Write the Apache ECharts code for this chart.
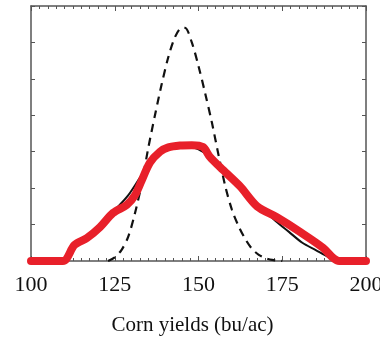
<!DOCTYPE html>
<html><head><meta charset="utf-8">
<script src="https://cdn.jsdelivr.net/npm/echarts@6/dist/echarts.min.js"></script>
<style>html,body{margin:0;padding:0;background:#fff}#c{width:380px;height:338px}</style>
</head><body><div id="c"></div>
<script>
const xTicks = [100, 125, 150, 175, 200];
const axisTitle = 'Corn yields (bu/ac)';
// dashed curve (x, y)
const dashedX = [123, 125, 127, 129, 131, 133, 135, 137, 139, 141, 143, 145, 146, 148, 150, 152, 154, 156, 158, 160, 162, 164, 166, 168, 170, 172, 175];
const dashedY = [0, 0.1, 0.3, 0.66, 1.3, 2.1, 3.1, 4.0, 4.85, 5.6, 6.15, 6.4, 6.4, 6.0, 5.35, 4.6, 3.8, 2.9, 2.05, 1.4, 0.95, 0.6, 0.33, 0.17, 0.08, 0.03, 0];
// thin black fitted curve
const fitX = [110, 113, 117, 121, 125, 129, 133, 137, 141, 145, 149, 153, 157, 161, 165, 169, 173, 177, 181, 185, 189, 192];
const fitY = [0, 0.35, 0.7, 1.05, 1.4, 1.8, 2.35, 2.85, 3.1, 3.15, 3.1, 2.9, 2.6, 2.2, 1.8, 1.45, 1.1, 0.8, 0.5, 0.3, 0.1, 0];
// thick red empirical curve
const redX = [100, 109.5, 113, 116.7, 120.6, 124.5, 128.6, 131, 133, 135.5, 138.5, 141, 144.5, 148, 151.3, 153.4, 157.3, 162.4, 167.5, 173.4, 180.3, 187.2, 190, 192, 200];
const redY = [0, 0, 0.44, 0.63, 0.93, 1.32, 1.54, 1.8, 2.2, 2.7, 3.0, 3.12, 3.17, 3.18, 3.13, 2.86, 2.5, 2.05, 1.5, 1.2, 0.8, 0.36, 0.1, 0, 0];

const pair = (xs, ys) => xs.map((x, i) => [x, ys[i]]);
const chart = echarts.init(document.getElementById('c'));
const axisCol = '#555';
const xBase = {
  type: 'value', min: 100, max: 200, interval: 25,
  axisLine: {show: true, onZero: false, lineStyle: {color: axisCol, width: 1.5}},
  axisTick: {inside: true, length: 5, lineStyle: {color: axisCol}},
  minorTick: {show: true, splitNumber: 10, length: 3, lineStyle: {color: axisCol}},
  splitLine: {show: false}
};
const yBase = {
  type: 'value', min: 0, max: 7, interval: 1,
  axisLine: {show: true, onZero: false, lineStyle: {color: axisCol, width: 1.5}},
  axisTick: {show: true, inside: true, length: 4, lineStyle: {color: axisCol}},
  axisLabel: {show: false},
  splitLine: {show: false}
};
chart.setOption({
  animation: false,
  grid: {left: 31, right: 14, top: 6, bottom: 77, containLabel: false, outerBoundsMode: 'none'},
  xAxis: [
    Object.assign({}, xBase, {
      position: 'bottom',
      name: axisTitle, nameLocation: 'middle', nameGap: 54,
      nameTextStyle: {fontFamily: 'Liberation Serif', fontSize: 21, color: '#111', padding: [0, 12, 0, 0]},
      axisLabel: {margin: 13, fontFamily: 'Liberation Serif', fontSize: 22, color: '#111',
        formatter: v => xTicks.includes(v) ? String(v) : ''}
    }),
    Object.assign({}, xBase, {position: 'top', axisLabel: {show: false}})
  ],
  yAxis: [
    Object.assign({}, yBase, {position: 'left'}),
    Object.assign({}, yBase, {position: 'right'})
  ],
  series: [
    {type: 'line', data: pair(dashedX, dashedY), smooth: 0.3, symbol: 'none',
     lineStyle: {color: '#111', width: 2.2, type: [8, 6]}},
    {type: 'line', data: pair(fitX, fitY), smooth: 0.3, symbol: 'none',
     lineStyle: {color: '#111', width: 2}},
    {type: 'line', data: pair(redX, redY), smooth: 0.3, symbol: 'none',
     lineStyle: {color: '#e8202a', width: 8, cap: 'round', join: 'round'}}
  ]
});
</script></body></html>
